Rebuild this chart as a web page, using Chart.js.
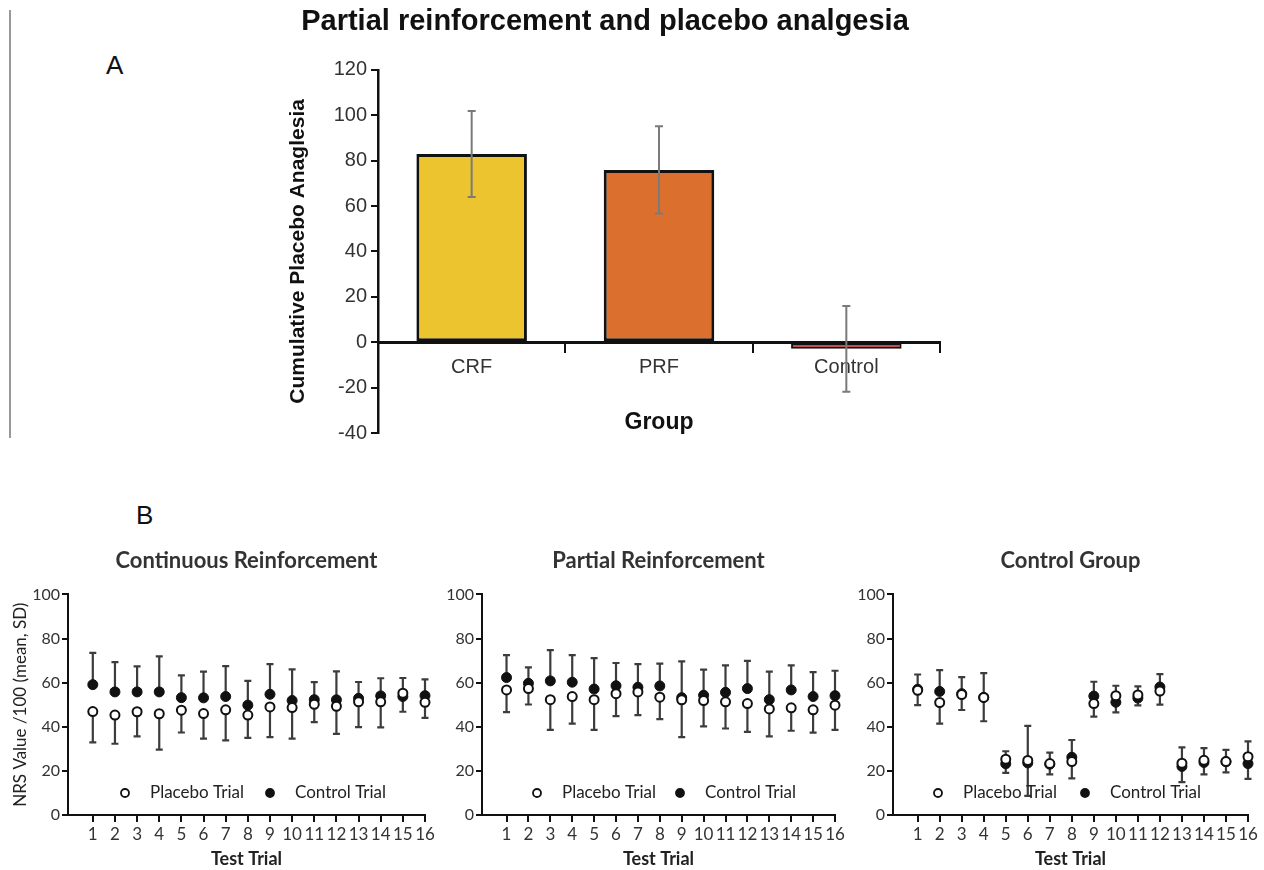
<!DOCTYPE html>
<html>
<head>
<meta charset="utf-8">
<title>Partial reinforcement and placebo analgesia</title>
<script src="https://cdn.jsdelivr.net/npm/chart.js@4.4.1/dist/chart.umd.min.js"></script>
<style>
  html, body { margin: 0; padding: 0; background: #fff; }
  body { width: 1264px; height: 870px; position: relative; overflow: hidden; font-family: 'Liberation Sans', Arial, sans-serif; }
  .box { position: absolute; }
  .panel-label { position: absolute; font-size: 26px; line-height: 30px; color: #111; }
  #frameLine { position: absolute; left: 9px; top: 10px; height: 428px; border-left: 2px solid #999; }
</style>
</head>
<body>
<div id="frameLine"></div>
<div class="panel-label" style="left:106px; top:50px;">A</div>
<div class="panel-label" style="left:136px; top:500px;">B</div>
<div class="box" style="left:0; top:0;"><canvas id="chartA" width="1210" height="450"></canvas></div>
<div class="box" style="left:0; top:540px;"><canvas id="chartCrf" width="440" height="330"></canvas></div>
<div class="box" style="left:440px; top:540px;"><canvas id="chartPrf" width="420" height="330"></canvas></div>
<div class="box" style="left:850px; top:540px;"><canvas id="chartCon" width="414" height="330"></canvas></div>

<script>
// Panel A - cumulative placebo analgesia per group
const groups = ['CRF', 'PRF', 'Control'];
const analgesiaMean = [82.9, 75.9, -2.9];
const analgesiaSd = [18.9, 19.2, 18.9];
const analgesiaTicks = [-40, -20, 0, 20, 40, 60, 80, 100, 120];

// Panel B - NRS per test trial (mean, SD)
const trials = [1, 2, 3, 4, 5, 6, 7, 8, 9, 10, 11, 12, 13, 14, 15, 16];
const nrsTicks = [0, 20, 40, 60, 80, 100];

// Continuous reinforcement
const crfPlacebo = [46.9, 45.3, 46.8, 45.9, 47.5, 46.0, 47.7, 45.3, 49.0, 48.7, 50.2, 49.3, 51.3, 51.3, 55.2, 51.1];
const crfPlaceboSd = [14.0, 13.0, 11.2, 16.3, 10.1, 11.4, 13.9, 10.3, 13.7, 14.1, 8.1, 12.5, 11.5, 11.6, 8.4, 7.1];
const crfControl = [59.1, 55.8, 55.8, 55.8, 53.2, 53.1, 53.7, 49.8, 54.7, 51.9, 52.3, 52.2, 52.9, 54.0, 53.7, 54.1];
const crfControlSd = [14.4, 13.5, 11.6, 16.1, 10.1, 11.9, 13.8, 11.0, 13.7, 14.1, 7.9, 12.9, 7.4, 8.0, 8.4, 7.4];

// Partial reinforcement
const prfPlacebo = [56.7, 57.3, 52.3, 53.7, 52.3, 55.0, 55.8, 53.4, 52.2, 51.9, 51.3, 50.5, 48.1, 48.6, 47.7, 49.8];
const prfPlaceboSd = [10.1, 7.2, 13.7, 12.3, 13.7, 10.2, 10.5, 9.9, 16.9, 11.7, 12.1, 12.8, 12.5, 10.4, 10.4, 11.2];
const prfControl = [62.3, 59.7, 60.8, 60.2, 57.1, 58.6, 57.9, 58.5, 53.2, 54.3, 55.6, 57.3, 52.3, 56.7, 53.7, 54.1];
const prfControlSd = [10.2, 7.2, 13.9, 12.3, 14.0, 10.3, 10.5, 10.1, 16.4, 11.6, 12.2, 12.6, 12.7, 11.1, 11.1, 11.3];

// Control group
const conPlacebo = [56.5, 51.0, 54.6, 53.3, 25.3, 24.7, 23.3, 24.2, 50.5, 54.1, 54.4, 56.2, 23.5, 24.8, 24.2, 26.4];
const conPlaceboSd = [6.7, 9.6, 7.0, 10.8, 6.2, 16.0, 4.9, 7.6, 5.9, 7.6, 4.7, 6.2, 8.6, 6.4, 4.9, 10.0];
const conControl = [57.0, 56.0, 55.0, 53.3, 23.2, 23.6, 23.0, 26.2, 53.9, 51.1, 53.0, 58.0, 22.0, 23.8, 24.2, 23.3];
const conControlSd = [6.7, 9.7, 7.5, 11.0, 5.7, 16.8, 5.3, 7.8, 6.5, 7.5, 5.3, 5.9, 8.7, 6.5, 5.3, 10.1];

// error bars: errorDir 1 = up only, -1 = down only, 0 = both
function drawErrorBars(chart, opts) {
    const ctx = chart.ctx;
    const yScale = chart.scales.y;
    ctx.save();
    ctx.strokeStyle = opts.color;
    ctx.lineWidth = opts.width;
    chart.data.datasets.forEach((ds, i) => {
        if (!ds.errors) return;
        const meta = chart.getDatasetMeta(i);
        meta.data.forEach((el, j) => {
            const d = ds.data[j];
            const val = typeof d === 'number' ? d : d.y;
            const sd = ds.errors[j];
            const dir = ds.errorDir || 0;
            const top = dir >= 0 ? yScale.getPixelForValue(val + sd) : el.y;
            const bot = dir <= 0 ? yScale.getPixelForValue(val - sd) : el.y;
            ctx.beginPath();
            ctx.moveTo(el.x, top);
            ctx.lineTo(el.x, bot);
            if (dir >= 0) {
                ctx.moveTo(el.x - opts.cap, top);
                ctx.lineTo(el.x + opts.cap, top);
            }
            if (dir <= 0) {
                ctx.moveTo(el.x - opts.cap, bot);
                ctx.lineTo(el.x + opts.cap, bot);
            }
            ctx.stroke();
        });
    });
    ctx.restore();
}

const errorBarPlugin = {
    id: 'errorBars',
    beforeDatasetsDraw(chart, args, opts) {
        if (opts.color && !opts.onTop) drawErrorBars(chart, opts);
    },
    afterDatasetsDraw(chart, args, opts) {
        if (opts.color && opts.onTop) drawErrorBars(chart, opts);
    }
};

// legend drawn inside the plot, like the original figure
const trialLegendPlugin = {
    id: 'trialLegend',
    afterDraw(chart, args, opts) {
        if (!opts.display) return;
        const { ctx, chartArea } = chart;
        const y = chartArea.bottom - opts.offsetY;
        ctx.save();
        ctx.font = opts.font;
        ctx.textBaseline = 'middle';
        chart.data.datasets.forEach((ds, i) => {
            const x = chartArea.left + opts.positions[i];
            ctx.beginPath();
            ctx.arc(x, y, 4, 0, Math.PI * 2);
            ctx.fillStyle = ds.pointBackgroundColor;
            ctx.fill();
            ctx.lineWidth = 1.8;
            ctx.strokeStyle = '#111';
            ctx.stroke();
            ctx.fillStyle = '#222';
            ctx.fillText(ds.label, x + opts.gap, y);
        });
        ctx.restore();
    }
};

Chart.register(errorBarPlugin, trialLegendPlugin);

// Panel A
new Chart(document.getElementById('chartA'), {
    type: 'bar',
    data: {
        labels: groups,
        datasets: [{
            label: 'Cumulative Placebo Anaglesia',
            data: analgesiaMean,
            errors: analgesiaSd,
            errorDir: 0,
            backgroundColor: ['#ECC42F', '#DB702E', '#C0282D'],
            borderColor: '#111',
            borderWidth: [3, 3, 2],
            borderSkipped: false,
            categoryPercentage: 1,
            barPercentage: 0.59
        }]
    },
    options: {
        responsive: false,
        animation: false,
        events: [],
        layout: { padding: { left: 270, right: 270, top: 0, bottom: 17 } },
        plugins: {
            legend: { display: false },
            tooltip: { enabled: false },
            title: {
                display: true,
                text: 'Partial reinforcement and placebo analgesia',
                font: { family: 'Liberation Sans', size: 29, weight: 'bold' },
                color: '#111',
                padding: { top: 5, bottom: 30 }
            },
            errorBars: { color: '#7a7a7a', width: 2, cap: 4, onTop: true }
        },
        scales: {
            x: {
                position: { y: 0 },
                afterFit: s => { s.height = 94; },
                grid: { drawOnChartArea: false, tickLength: 9, color: '#111', lineWidth: 2, offset: true },
                border: { color: '#111', width: 3 },
                ticks: { font: { family: 'Liberation Sans', size: 20 }, color: '#333', padding: 4 },
                title: {
                    display: true, text: 'Group',
                    font: { family: 'Liberation Sans', size: 23, weight: 'bold' },
                    color: '#111', padding: 0
                }
            },
            y: {
                min: -40,
                max: 120,
                afterBuildTicks: s => { s.ticks = analgesiaTicks.map(v => ({ value: v })); },
                afterFit: s => { s.width = 108; },
                grid: { drawOnChartArea: false, tickLength: 7, color: '#111', lineWidth: 2 },
                border: { color: '#111', width: 2.5 },
                ticks: { font: { family: 'Liberation Sans', size: 20 }, color: '#333', padding: 4 },
                title: {
                    display: true, text: 'Cumulative Placebo Anaglesia',
                    font: { family: 'Liberation Sans', size: 21, weight: 'bold' },
                    color: '#111', padding: { top: 16, bottom: 0 }
                }
            }
        }
    }
});

// Panel B
function trialChart(id, title, placebo, placeboSd, control, controlSd, box) {
    return new Chart(document.getElementById(id), {
        type: 'scatter',
        data: {
            datasets: [{
                label: 'Placebo Trial',
                data: trials.map((t, i) => ({ x: t, y: placebo[i] })),
                errors: placeboSd,
                errorDir: -1,
                clip: false,
                pointRadius: 4.5,
                pointBackgroundColor: '#fff',
                pointBorderColor: '#111',
                pointBorderWidth: 2
            }, {
                label: 'Control Trial',
                data: trials.map((t, i) => ({ x: t, y: control[i] })),
                errors: controlSd,
                errorDir: 1,
                clip: false,
                pointRadius: 5,
                pointBackgroundColor: '#111',
                pointBorderColor: '#111',
                pointBorderWidth: 1
            }]
        },
        options: {
            responsive: false,
            animation: false,
            events: [],
            layout: { padding: { left: box.left, right: box.right, top: 0, bottom: 0 } },
            plugins: {
                legend: { display: false },
                tooltip: { enabled: false },
                title: {
                    display: true,
                    text: title,
                    fullSize: false,
                    font: { family: 'Lato', size: 22, weight: 'bold' },
                    color: '#333',
                    padding: { top: 8, bottom: 20 }
                },
                errorBars: { color: '#3c3c3c', width: 2.2, cap: 3.5, onTop: false },
                trialLegend: { display: true, positions: box.legend, gap: 25, offsetY: 22, font: '17px Lato' }
            },
            scales: {
                x: {
                    type: 'linear',
                    min: -0.12,
                    max: 16,
                    afterBuildTicks: s => { s.ticks = trials.map(v => ({ value: v })); },
                    afterFit: s => { s.height = 55; },
                    grid: { drawOnChartArea: false, tickLength: 7, color: '#111', lineWidth: 2 },
                    border: { color: '#111', width: 2 },
                    ticks: { font: { family: 'Lato', size: 17 }, color: '#333', padding: 2, autoSkip: false, maxRotation: 0 },
                    title: {
                        display: true, text: 'Test Trial',
                        font: { family: 'Lato', size: 18, weight: 'bold' },
                        color: '#222', padding: 0
                    }
                },
                y: {
                    min: 0,
                    max: 100,
                    afterBuildTicks: s => { s.ticks = nrsTicks.map(v => ({ value: v })); },
                    afterFit: s => { s.width = box.yWidth; },
                    grid: { drawOnChartArea: false, tickLength: 6, color: '#111', lineWidth: 2 },
                    border: { color: '#111', width: 2 },
                    ticks: { font: { family: 'Lato', size: 16 }, color: '#333', padding: 2 },
                    title: {
                        display: !!box.yTitle, text: box.yTitle || '',
                        font: { family: 'Lato', size: 17 },
                        color: '#222', padding: 0
                    }
                }
            }
        }
    });
}

trialChart('chartCrf', 'Continuous Reinforcement', crfPlacebo, crfPlaceboSd, crfControl, crfControlSd,
    { left: 10, right: 15, yWidth: 58, yTitle: 'NRS Value /100 (mean, SD)', legend: [57, 202] });
trialChart('chartPrf', 'Partial Reinforcement', prfPlacebo, prfPlaceboSd, prfControl, prfControlSd,
    { left: 0, right: 25, yWidth: 42, legend: [55, 198] });
trialChart('chartCon', 'Control Group', conPlacebo, conPlaceboSd, conControl, conControlSd,
    { left: 0, right: 16, yWidth: 43, legend: [45, 192] });
</script>
</body>
</html>
